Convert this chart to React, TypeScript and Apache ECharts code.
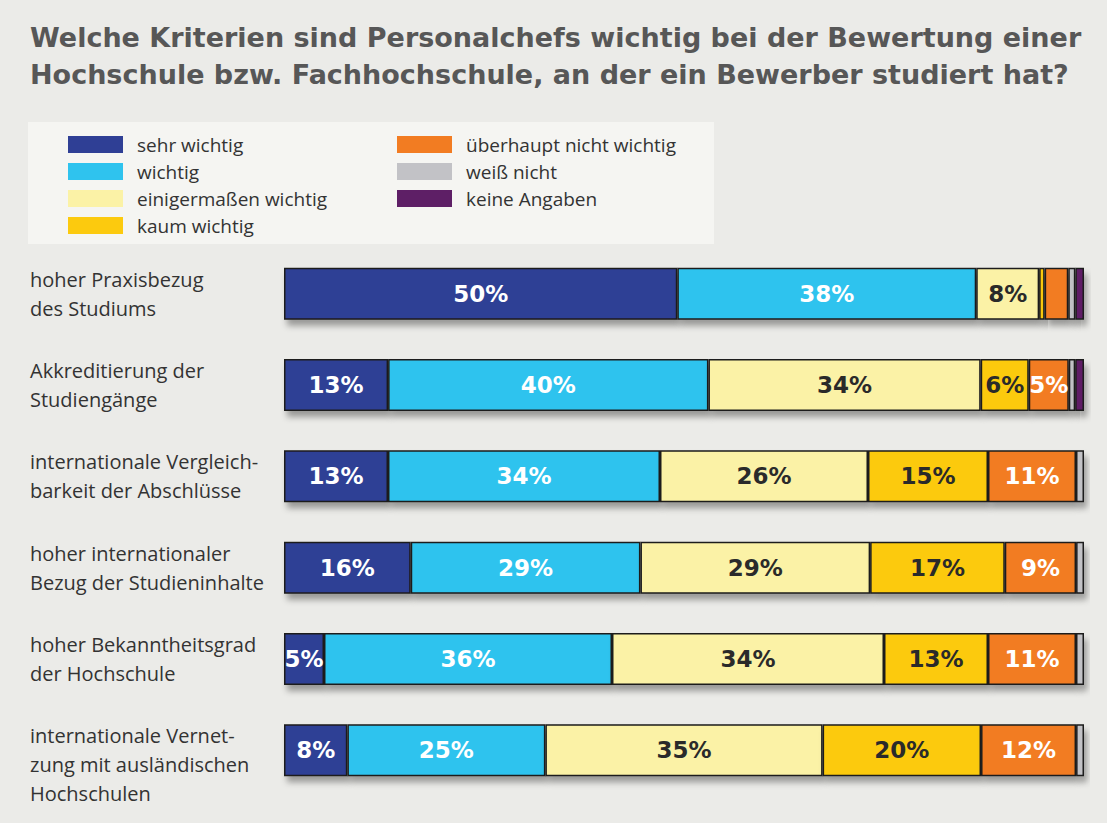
import React, { useEffect, useRef } from "react";
import * as echarts from "echarts";

const TITLE = "Welche Kriterien sind Personalchefs wichtig bei der Bewertung einer\nHochschule bzw. Fachhochschule, an der ein Bewerber studiert hat?";

const categories = [
  "hoher Praxisbezug\ndes Studiums",
  "Akkreditierung der\nStudiengänge",
  "internationale Vergleich-\nbarkeit der Abschlüsse",
  "hoher internationaler\nBezug der Studieninhalte",
  "hoher Bekanntheitsgrad\nder Hochschule",
  "internationale Vernet-\nzung mit ausländischen\nHochschulen",
];

const seriesNames = [
  "sehr wichtig",
  "wichtig",
  "einigermaßen wichtig",
  "kaum wichtig",
  "überhaupt nicht wichtig",
  "weiß nicht",
  "keine Angaben",
];

const sehrWichtig = [50, 13, 13, 16, 5, 8];
const wichtig = [38, 40, 34, 29, 36, 25];
const einigermassen = [8, 34, 26, 29, 34, 35];
const kaumWichtig = [0.7, 6, 15, 17, 13, 20];
const ueberhauptNicht = [3, 5, 11, 9, 11, 12];
const weissNicht = [0.9, 0.8, 1, 1, 1, 1];
const keineAngaben = [1.1, 1.1, 0, 0, 0, 0];

const values = [sehrWichtig, wichtig, einigermassen, kaumWichtig, ueberhauptNicht, weissNicht, keineAngaben];
const colors = ["#2f3f95", "#2fc3ee", "#fbf2a6", "#fcca0e", "#f27c22", "#c2c2c6", "#5e1f66"];
const labelColors = ["#ffffff", "#ffffff", "#2a2a2a", "#2a2a2a", "#ffffff", "#2a2a2a", "#ffffff"];

export default function App() {
  const ref = useRef<HTMLDivElement>(null);
  useEffect(() => {
    if (!ref.current) return;
    const chart = echarts.init(ref.current, null, { renderer: "svg" });
    const totals = categories.map((_, i) => values.reduce((s, arr) => s + arr[i], 0));
    const series = values.map((arr, si) => ({
      type: "bar",
      name: seriesNames[si],
      stack: "total",
      barWidth: 52,
      data: arr.map((v, i) => (v / totals[i]) * 100),
      itemStyle: {
        color: colors[si],
        borderColor: "#1c1c1c",
        borderWidth: 1.5,
        shadowColor: "rgba(0,0,0,0.35)",
        shadowBlur: 6,
        shadowOffsetX: 3,
        shadowOffsetY: 6,
      },
      label: {
        show: true,
        position: "inside",
        color: labelColors[si],
        fontFamily: "DejaVu Sans",
        fontWeight: "bold",
        fontSize: 23,
        formatter: (p: any) => (arr[p.dataIndex] >= 4 ? arr[p.dataIndex] + "%" : ""),
      },
    }));
    const legendText = { fontFamily: "Open Sans", fontSize: 19, lineHeight: 17, color: "#333", padding: [0, 0, 0, 9] };
    chart.setOption({
      animation: false,
      backgroundColor: "#ebebe8",
      title: {
        text: TITLE,
        left: 25,
        top: 14,
        textStyle: {
          fontFamily: "DejaVu Sans",
          fontWeight: "bold",
          fontSize: 27,
          lineHeight: 37,
          color: "#575757",
        },
      },
      graphic: [
        {
          type: "rect",
          shape: { x: 28, y: 122, width: 686, height: 122 },
          style: { fill: "#f5f5f2" },
          z: -1,
        },
      ],
      legend: [
        {
          data: seriesNames.slice(0, 4),
          orient: "vertical",
          left: 63,
          top: 130,
          itemWidth: 55,
          itemHeight: 17,
          itemGap: 8,
          icon: "rect",
          selectedMode: false,
          itemStyle: { borderWidth: 0, shadowBlur: 0, shadowOffsetX: 0, shadowOffsetY: 0 },
          textStyle: legendText,
        },
        {
          data: seriesNames.slice(4),
          orient: "vertical",
          left: 392,
          top: 130,
          itemWidth: 55,
          itemHeight: 17,
          itemGap: 8,
          icon: "rect",
          selectedMode: false,
          itemStyle: { borderWidth: 0, shadowBlur: 0, shadowOffsetX: 0, shadowOffsetY: 0 },
          textStyle: legendText,
        },
      ],
      grid: { left: 284, right: 23, top: 248, bottom: 27 },
      xAxis: { type: "value", min: 0, max: 100, show: false },
      yAxis: {
        type: "category",
        inverse: true,
        data: categories,
        axisLine: { show: false },
        axisTick: { show: false },
        axisLabel: {
          align: "left",
          verticalAlign: "top",
          margin: 254,
          fontFamily: "Open Sans",
          fontSize: 20,
          lineHeight: 29,
          color: "#333",
          padding: [-29, 0, 0, 0],
        },
      },
      series,
    });
    return () => chart.dispose();
  }, []);
  return <div ref={ref} style={{ position: "fixed", left: 0, top: 0, width: 1107, height: 823 }} />;
}
